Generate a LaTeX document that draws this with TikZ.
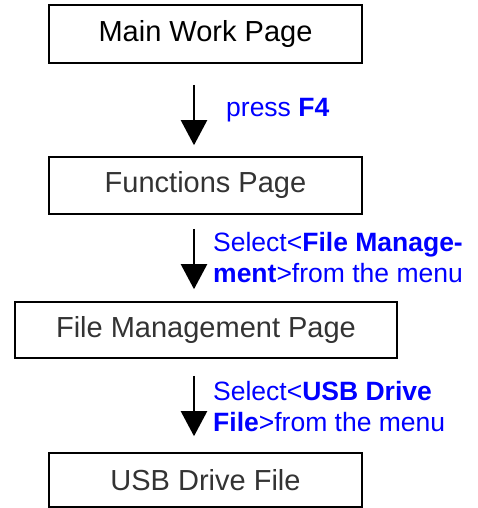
\documentclass[tikz,border=0pt]{standalone}
\usepackage{fontspec}
\setmainfont{Liberation Sans}
\usetikzlibrary{arrows.meta}
\definecolor{boxtext}{RGB}{51,51,51}
\definecolor{lblblue}{RGB}{0,0,255}
\tikzset{
  pagebox/.style={draw=black, line width=1.6pt, minimum height=#1, inner sep=0pt,
    font=\fontsize{29pt}{34pt}\selectfont, text=boxtext},
  lbl/.style={anchor=west, align=left, inner sep=0pt, text=lblblue,
    font=\fontsize{26.5pt}{31pt}\selectfont},
  arr/.style={line width=2.2pt, -{Triangle[width=26pt,length=25pt]}}
}
\begin{document}
\begin{tikzpicture}[x=1pt,y=1pt]
\useasboundingbox (0,0) rectangle (478,-508);
\node[pagebox=58pt, minimum width=313pt, text=black] (b1) at (205.5,-34) {Main Work Page};
\node[pagebox=57pt, minimum width=313pt] (b2) at (205.5,-185.5) {Functions Page};
\node[pagebox=56pt, minimum width=382pt] (b3) at (206,-330) {File Management Page};
\node[pagebox=54pt, minimum width=313pt] (b4) at (205.5,-480) {USB Drive File};
\coordinate (ax) at (194,0);
\draw[arr, shorten <=21pt, shorten >=11pt] (b1.south -| ax) -- (b2.north -| ax);
\draw[arr, shorten <=14pt, shorten >=12pt] (b2.south -| ax) -- (b3.north -| ax);
\draw[arr, shorten <=17pt, shorten >=16pt] (b3.south -| ax) -- (b4.north -| ax);
\node[lbl] (l1) at (226,-110) {press \textbf{F4}};
\node[lbl] (l2) at (213,-258) {Select<\textbf{File Manage-}\\\textbf{ment}>from the menu};
\node[lbl] (l3) at (213,-406.5) {Select<\textbf{USB Drive}\\\textbf{File}>from the menu};
\end{tikzpicture}
\end{document}
